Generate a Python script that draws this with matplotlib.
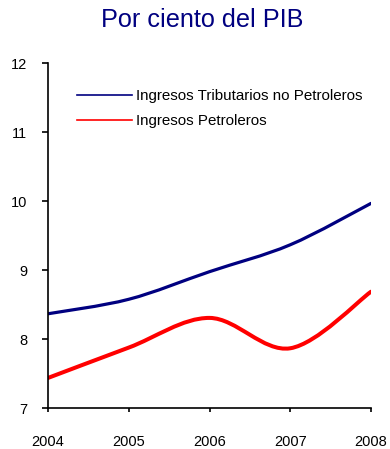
import numpy as np
import matplotlib
matplotlib.use("Agg")
import matplotlib.pyplot as plt
from matplotlib.path import Path
from matplotlib.patches import PathPatch
from matplotlib.lines import Line2D

plt.rcParams['font.family'] = ['Liberation Sans', 'DejaVu Sans']

years = ['2004', '2005', '2006', '2007', '2008']
tributarios = [8.37, 8.58, 8.98, 9.37, 9.97]
petroleros = [7.44, 7.88, 8.31, 7.87, 8.69]
series_names = ['Ingresos Tributarios no Petroleros', 'Ingresos Petroleros']
title = 'Por ciento del PIB'


def smooth_path(xs, ys):
    # Excel-style smoothed line: Catmull-Rom segments as cubic Bezier curves
    pts = np.column_stack([xs, ys]).astype(float)
    ext = np.vstack([pts[0], pts, pts[-1]])
    verts = [pts[0]]
    codes = [Path.MOVETO]
    for i in range(len(pts) - 1):
        p0, p1, p2, p3 = ext[i], ext[i + 1], ext[i + 2], ext[i + 3]
        c1 = p1 + (p2 - p0) / 6.0
        c2 = p2 - (p3 - p1) / 6.0
        verts += [c1, c2, p2]
        codes += [Path.CURVE4] * 3
    return Path(verts, codes)


fig = plt.figure(figsize=(3.9, 4.49), dpi=100)
ax = fig.add_axes([48 / 390, 1 - 408.3 / 449, (371 - 48) / 390, (408.3 - 63.3) / 449])

x = np.arange(len(years))
ax.add_patch(PathPatch(smooth_path(x, tributarios), fill=False, edgecolor='#000080',
                       lw=2.3, capstyle='round', joinstyle='round'))
ax.add_patch(PathPatch(smooth_path(x, petroleros), fill=False, edgecolor='#ff0000',
                       lw=2.9, capstyle='round', joinstyle='round'))

ax.set_xlim(0, len(years) - 1)
ax.set_ylim(7, 12)
ax.set_xticks(x)
ax.set_xticklabels(years)
ax.set_yticks(np.arange(7, 13, 1))

for side in ['top', 'right']:
    ax.spines[side].set_visible(False)
for side in ['left', 'bottom']:
    ax.spines[side].set_linewidth(1.2)
    ax.spines[side].set_color('black')
ax.tick_params(axis='x', length=3, width=1.2, pad=16, labelsize=10.5, direction='out')
ax.tick_params(axis='y', length=4, width=1.2, pad=11, labelsize=10.5, direction='out')

handles = [Line2D([], [], color='#000080', lw=1.2),
           Line2D([], [], color='#ff0000', lw=1.2)]
fig.legend(handles, series_names, loc='upper left',
           bbox_to_anchor=(77 / 390, 1 - 89 / 449), frameon=False,
           fontsize=10.9, handlelength=3.6, handletextpad=0.33,
           labelspacing=0.72, borderpad=0, borderaxespad=0)

fig.text(0.518, 1 - 20 / 449, title, ha='center', va='center',
         fontsize=18.2, color='#000080')

fig.savefig('out.png', dpi=100)
